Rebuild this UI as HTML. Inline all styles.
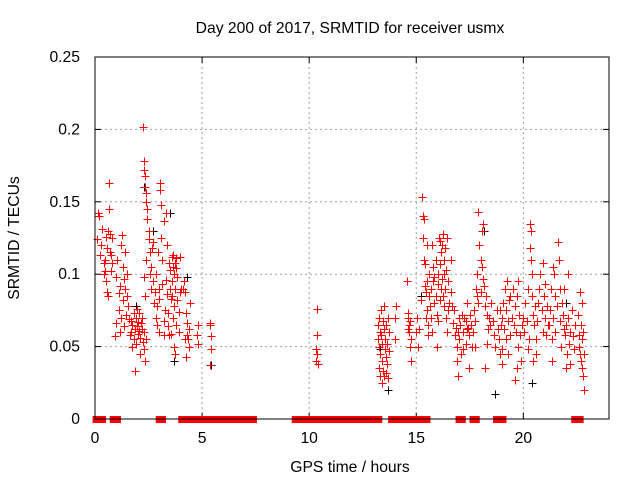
<!DOCTYPE html>
<html><head><meta charset="utf-8"><style>
html,body{margin:0;padding:0;background:#fff}
svg text{font-family:"Liberation Sans",sans-serif;font-size:15.7px;fill:#000}
</style></head><body>
<svg id="chart" width="640" height="480" xmlns="http://www.w3.org/2000/svg">
<text x="350" y="33" text-anchor="middle">Day 200 of 2017, SRMTID for receiver usmx</text>
<text x="350" y="472" text-anchor="middle">GPS time / hours</text>
<text transform="translate(19,238) rotate(-90)" text-anchor="middle">SRMTID / TECUs</text>
<g id="grid"></g>
<g id="ticks"></g>
<g id="zeros"></g>
<g id="blk"></g>
<g id="red"></g>
<rect x="95" y="57" width="514" height="362" fill="none" stroke="#000" stroke-width="1"/>
</svg>
<script>
const xTicks=[0,5,10,15,20];
const yTicks=[0,0.05,0.1,0.15,0.2,0.25];
const yTickLabels=["0","0.05","0.1","0.15","0.2","0.25"];
const zeroSegments=[[0.05,0.35],[0.85,1.05],[3.0,3.15],[4.05,4.2],[4.45,7.4],[9.35,13.25],[13.85,14.7],[14.95,15.5],[17.0,17.15],[17.65,17.8],[18.75,19.05],[22.4,22.65]];
const blackPoints=[[1.9,0.078],[2.3,0.16],[2.7,0.13],[3.5,0.142],[3.7,0.04],[4.3,0.098],[5.4,0.037],[13.3,0.048],[13.7,0.02],[15.2,0.085],[18.15,0.13],[18.7,0.017],[20.4,0.025],[22.0,0.08]];
const redPoints=[[0.1,0.124],[0.15,0.142],[0.2,0.14],[0.25,0.113],[0.3,0.12],[0.35,0.131],[0.4,0.108],[0.45,0.102],[0.5,0.126],[0.5,0.095],[0.55,0.118],[0.6,0.13],[0.6,0.085],[0.65,0.145],[0.65,0.163],[0.7,0.128],[0.7,0.115],[0.75,0.102],[0.75,0.113],[0.8,0.108],[0.8,0.125],[0.45,0.11],[0.55,0.088],[0.4,0.1],
[1.0,0.098],[1.05,0.11],[1.1,0.087],[1.1,0.075],[1.15,0.092],[1.2,0.12],[1.2,0.07],[1.25,0.127],[1.3,0.105],[1.3,0.082],[1.35,0.064],[1.35,0.097],[1.4,0.09],[1.4,0.115],[1.45,0.072],[1.5,0.085],[1.5,0.1],[1.55,0.078],[0.95,0.057],[1.6,0.069],[1.0,0.066],[1.15,0.06],
[1.65,0.058],[1.7,0.068],[1.7,0.06],[1.75,0.05],[1.75,0.065],[1.8,0.073],[1.8,0.055],[1.85,0.062],[1.85,0.033],[1.9,0.07],[1.9,0.052],[1.95,0.064],[1.95,0.076],[2.0,0.059],[2.0,0.067],[2.05,0.061],[2.05,0.073],[2.1,0.056],[2.1,0.045],[2.15,0.066],[2.2,0.062],[2.2,0.07],[2.25,0.053],[2.3,0.06],[2.3,0.048],[2.35,0.04],[2.4,0.055],
[2.25,0.202],[2.3,0.178],[2.3,0.172],[2.35,0.168],[2.35,0.16],[2.4,0.156],[2.4,0.15],[2.45,0.145],[2.45,0.138],[2.5,0.124],[2.5,0.13],[2.55,0.115],[2.55,0.1],[2.6,0.09],[2.4,0.11],[2.3,0.098],[2.35,0.085],[2.6,0.105],[2.65,0.118],[2.7,0.095],[2.7,0.122],
[2.75,0.08],[2.8,0.088],[2.85,0.07],[2.85,0.1],[2.9,0.065],[2.9,0.078],[3.0,0.083],[3.0,0.09],[3.05,0.158],[3.05,0.163],[3.1,0.148],[3.1,0.125],[3.15,0.11],[3.15,0.093],[3.2,0.068],[3.2,0.058],[3.25,0.075],[3.3,0.096],[3.3,0.142],[3.35,0.12],[3.35,0.086],[3.4,0.064],[3.4,0.073],[3.45,0.108],[3.45,0.058],[3.5,0.103],[3.5,0.09],[3.0,0.06],[2.95,0.115],[3.2,0.137],
[3.55,0.083],[3.6,0.112],[3.6,0.095],[3.65,0.105],[3.65,0.07],[3.7,0.1],[3.7,0.078],[3.75,0.108],[3.75,0.09],[3.8,0.111],[3.8,0.065],[3.85,0.098],[3.85,0.082],[3.9,0.074],[3.9,0.06],[3.95,0.088],[3.95,0.112],[4.0,0.09],[3.7,0.05],[3.75,0.045],[3.6,0.085],[3.55,0.059],[3.8,0.104],[3.65,0.113],
[4.2,0.088],[4.25,0.073],[4.3,0.066],[4.3,0.058],[4.35,0.055],[4.4,0.062],[4.4,0.05],[4.25,0.043],[4.2,0.055],[4.75,0.058],[4.8,0.065],[4.8,0.052],[4.45,0.08],[4.1,0.09],[4.15,0.095],
[5.35,0.066],[5.35,0.065],[5.4,0.057],[5.4,0.048],[5.35,0.037],
[10.35,0.076],[10.35,0.058],[10.3,0.048],[10.35,0.045],[10.3,0.04],[10.4,0.038],
[13.2,0.065],[13.2,0.055],[13.25,0.07],[13.25,0.05],[13.3,0.06],[13.3,0.045],[13.35,0.075],[13.35,0.058],[13.4,0.052],[13.4,0.04],[13.45,0.068],[13.45,0.033],[13.5,0.062],[13.5,0.078],[13.55,0.048],[13.55,0.055],[13.6,0.043],[13.6,0.065],[13.65,0.052],[13.65,0.038],[13.7,0.07],[13.7,0.028],[13.75,0.06],[13.75,0.047],[13.3,0.03],[13.6,0.032],[13.25,0.035],[13.5,0.03],[13.4,0.025],[14.0,0.07],[14.0,0.055],[14.05,0.078],
[14.55,0.095],[14.6,0.07],[14.6,0.062],[14.65,0.06],[14.65,0.065],[14.7,0.05],[14.7,0.068],[14.75,0.055],[14.75,0.04],[14.6,0.073],
[15.0,0.06],[15.05,0.07],[15.1,0.05],[15.15,0.062],[15.2,0.082],[15.25,0.153],[15.3,0.14],[15.3,0.125],[15.35,0.138],[15.35,0.11],[15.4,0.092],[15.4,0.107],[15.45,0.07],[15.45,0.088],[15.5,0.075],[15.5,0.095],[15.55,0.065],[15.55,0.058],[15.6,0.085],[15.6,0.1],[15.65,0.078],[15.7,0.07],[15.7,0.09],[15.75,0.12],[15.8,0.105],[15.8,0.095],[15.85,0.08],[15.9,0.11],[15.9,0.085],[15.95,0.072],[16.0,0.093],[16.0,0.1],[16.05,0.125],[16.1,0.082],[16.1,0.107],[16.15,0.115],[16.15,0.09],[16.2,0.097],[16.2,0.12],[16.25,0.128],[16.25,0.085],[16.3,0.1],[16.3,0.11],[16.35,0.118],[16.35,0.09],[16.4,0.103],[16.4,0.07],[16.45,0.125],[16.5,0.095],[16.5,0.075],[16.55,0.08],[16.6,0.11],[16.6,0.088],[15.75,0.06],[15.95,0.05],[16.45,0.06],[16.65,0.078],[15.5,0.12],[16.0,0.068],[16.1,0.123],[15.85,0.098],[16.3,0.078],
[16.7,0.066],[16.75,0.075],[16.8,0.058],[16.85,0.063],[16.9,0.05],[16.9,0.04],[16.95,0.06],[17.0,0.07],[17.0,0.055],[17.05,0.065],[17.1,0.045],[17.15,0.072],[17.2,0.06],[17.25,0.07],[17.3,0.052],[17.3,0.068],[17.35,0.08],[17.4,0.063],[17.45,0.058],[17.5,0.072],[17.55,0.065],[17.6,0.05],[17.65,0.06],[17.7,0.075],[17.75,0.068],[17.8,0.09],[17.85,0.1],[17.85,0.085],[17.9,0.143],[17.95,0.12],[18.0,0.088],[18.0,0.11],[18.05,0.13],[18.1,0.135],[18.1,0.097],[18.15,0.092],[18.2,0.078],[18.25,0.085],[18.3,0.072],[18.35,0.062],[18.4,0.07],[18.45,0.065],[18.5,0.08],[17.2,0.048],[17.9,0.08],[18.05,0.105],[17.75,0.05],[18.2,0.035],[17.35,0.062],[17.45,0.035],[16.95,0.03],[18.3,0.052],
[18.6,0.068],[18.65,0.058],[18.7,0.05],[18.75,0.075],[18.8,0.062],[18.85,0.055],[18.9,0.045],[18.95,0.065],[19.0,0.07],[19.0,0.048],[19.05,0.08],[19.1,0.062],[19.15,0.09],[19.2,0.075],[19.2,0.055],[19.25,0.095],[19.3,0.068],[19.35,0.082],[19.4,0.058],[19.45,0.07],[19.5,0.09],[19.55,0.065],[19.6,0.078],[19.65,0.06],[19.7,0.085],[19.75,0.05],[19.8,0.072],[19.85,0.058],[19.9,0.04],[19.95,0.065],[19.0,0.038],[19.3,0.045],[19.6,0.027],[19.7,0.035],[19.4,0.085],[19.75,0.095],[18.9,0.075],
[20.0,0.07],[20.05,0.06],[20.1,0.08],[20.15,0.068],[20.2,0.09],[20.25,0.055],[20.3,0.135],[20.35,0.13],[20.35,0.11],[20.4,0.1],[20.4,0.085],[20.45,0.072],[20.5,0.065],[20.55,0.078],[20.6,0.055],[20.6,0.045],[20.65,0.068],[20.7,0.08],[20.75,0.09],[20.8,0.1],[20.85,0.075],[20.9,0.06],[20.95,0.085],[21.0,0.07],[21.05,0.058],[21.1,0.078],[21.15,0.065],[20.3,0.118],[20.45,0.04],[21.0,0.093],[20.2,0.048],[20.9,0.108],
[21.2,0.065],[21.25,0.075],[21.3,0.09],[21.35,0.055],[21.4,0.07],[21.45,0.1],[21.5,0.085],[21.5,0.06],[21.55,0.078],[21.6,0.122],[21.65,0.11],[21.7,0.09],[21.7,0.068],[21.75,0.05],[21.8,0.08],[21.85,0.072],[21.9,0.062],[21.95,0.058],[22.0,0.065],[22.05,0.045],[22.1,0.07],[22.15,0.052],[22.2,0.06],[22.25,0.075],[22.3,0.057],[22.35,0.048],[22.4,0.065],[21.4,0.105],[21.9,0.09],[22.1,0.1],[21.35,0.04],[22.0,0.035],[22.2,0.038],
[22.55,0.072],[22.6,0.058],[22.6,0.05],[22.65,0.088],[22.65,0.045],[22.7,0.065],[22.7,0.04],[22.75,0.055],[22.75,0.035],[22.8,0.06],[22.8,0.03],[22.85,0.02],[22.85,0.045],[22.75,0.08]];

const NS='http://www.w3.org/2000/svg';
const X0=95,X1=609,Y0=419,Y1=57,XMAX=24,YMAX=0.25;
function sx(t){return X0+(X1-X0)*t/XMAX;}
function sy(v){return Y0-(Y0-Y1)*v/YMAX;}
function mk(tag,attrs,parent){const e=document.createElementNS(NS,tag);for(const k in attrs)e.setAttribute(k,attrs[k]);parent.appendChild(e);return e;}
const grid=document.getElementById('grid'),ticks=document.getElementById('ticks');
xTicks.forEach(t=>{
  const x=sx(t);
  if(t>0){const g=mk('line',{x1:x,x2:x,y1:Y1,y2:Y0,stroke:'#a0a0a0','stroke-dasharray':'2,3'},grid);
  
  }
  mk('line',{x1:x,x2:x,y1:Y0,y2:Y0-6,stroke:'#000'},ticks);
  mk('line',{x1:x,x2:x,y1:Y1,y2:Y1+6,stroke:'#000'},ticks);
  const l=mk('text',{x:x,y:Y0+24,'text-anchor':'middle'},ticks);l.textContent=String(t);
  
  
});
yTicks.forEach((v,i)=>{
  const y=sy(v);
  if(v>0&&v<YMAX){const g=mk('line',{x1:X0,x2:X1,y1:y,y2:y,stroke:'#a0a0a0','stroke-dasharray':'2,3'},grid);
  
  }
  mk('line',{x1:X0,x2:X0+6,y1:y,y2:y,stroke:'#000'},ticks);
  mk('line',{x1:X1,x2:X1-6,y1:y,y2:y,stroke:'#000'},ticks);
  const l=mk('text',{x:80,y:y+5,'text-anchor':'end'},ticks);l.textContent=yTickLabels[i];
  
  
});
const zg=document.getElementById('zeros');
zeroSegments.forEach(s=>{
  const r=mk('rect',{x:sx(s[0])-3.5,y:Y0-3,width:sx(s[1])-sx(s[0])+7,height:7,fill:'#f00'},zg);
  
  
});
function plus(p,col,parent,name){
  const x=Math.round(sx(p[0]))+0.5,y=Math.round(sy(p[1]))+0.5;
  const e=mk('path',{d:`M${x-4} ${y}H${x+4}M${x} ${y-4}V${y+4}`,stroke:col,'stroke-width':1,fill:'none'},parent);
  
  
}
const bg=document.getElementById('blk'),rg=document.getElementById('red');
blackPoints.forEach(p=>plus(p,'#000',bg,'black-point'));
redPoints.forEach(p=>plus(p,'#f00',rg,'red-point'));
</script>
</body></html>
